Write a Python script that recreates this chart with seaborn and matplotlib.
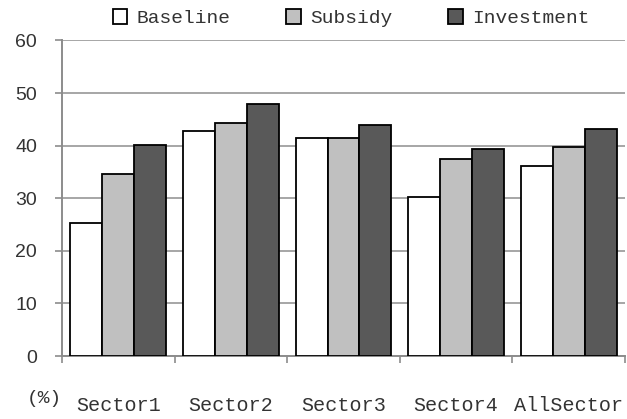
import pandas as pd
import matplotlib
matplotlib.use("Agg")
import matplotlib.pyplot as plt
from matplotlib.patches import Patch
import seaborn as sns

# values (%)
sectors = ["Sector1", "Sector2", "Sector3", "Sector4", "AllSector"]
baseline = [25.2, 42.7, 41.5, 30.2, 36.2]
subsidy = [34.7, 44.3, 41.5, 37.4, 39.7]
investment = [40.1, 48.0, 43.9, 39.3, 43.1]
scenarios = ["Baseline", "Subsidy", "Investment"]
colors = ["#ffffff", "#c0c0c0", "#595959"]

df = pd.DataFrame({
    "sector": sectors * 3,
    "scenario": [s for s in scenarios for _ in sectors],
    "value": baseline + subsidy + investment,
})

sns.set_style("white")
mono = "Liberation Mono"
plt.rcParams["font.family"] = ["Liberation Sans", "DejaVu Sans"]

fig = plt.figure(figsize=(6.27, 4.19), dpi=100)
ax = fig.add_axes([62/627, 1 - 356/419, (625-62)/627, (356-40.5)/419])

sns.barplot(data=df, x="sector", y="value", hue="scenario", order=sectors,
            hue_order=scenarios, palette=colors, width=0.85, dodge=True,
            edgecolor="black", linewidth=1.3, saturation=1, errorbar=None,
            legend=False, ax=ax, zorder=3)

ax.set_ylim(0, 60)
ax.set_xlim(-0.5, len(sectors) - 0.5)
ax.set_yticks(range(0, 61, 10))
ax.yaxis.grid(True, color="#a6a6a6", linewidth=1.4, zorder=0)
ax.set_axisbelow(True)
ax.set_xlabel("")
ax.set_ylabel("")

for s in ["top", "right"]:
    ax.spines[s].set_visible(False)
for s in ["left", "bottom"]:
    ax.spines[s].set_color("#8c8c8c")
    ax.spines[s].set_linewidth(1.4)

ax.tick_params(axis="y", left=True, length=5, width=1.2, color="#8c8c8c",
               pad=13, labelsize=14, labelcolor="#333333")
ax.tick_params(axis="x", which="major", length=0, pad=29)
ax.set_xticks([i - 0.5 for i in range(len(sectors) + 1)], minor=True)
ax.tick_params(axis="x", which="minor", bottom=True, length=5, width=1.2,
               color="#8c8c8c")
for lab in ax.get_xticklabels():
    lab.set_fontfamily(mono)
    lab.set_fontsize(14.5)
    lab.set_color("#333333")

fig.text(27/627, 1 - 398/419, "(%)", fontfamily=mono, fontsize=14,
         va="center", ha="left", color="#333333")

handles = [Patch(facecolor=c, edgecolor="black", linewidth=1.3) for c in colors]
fig.legend(handles, scenarios, loc="center", bbox_to_anchor=(351/627, 1 - 18/419),
           ncol=3, frameon=False, prop={"family": mono, "size": 14},
           handlelength=0.75, handleheight=0.85, handletextpad=0.45,
           columnspacing=2.9, labelcolor="#333333")

fig.savefig("out.png", dpi=100)
